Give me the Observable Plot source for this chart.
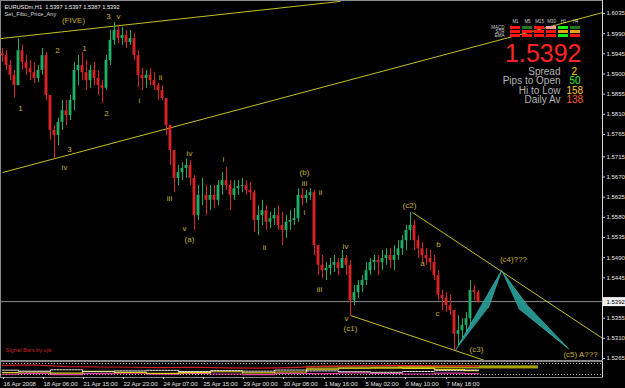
<!DOCTYPE html>
<html><head><meta charset="utf-8">
<script src="https://cdn.jsdelivr.net/npm/d3@7"></script>
<script src="https://cdn.jsdelivr.net/npm/@observablehq/plot@0.6"></script>
<style>
html,body{margin:0;padding:0;background:#000;}
#wrap{position:relative;width:625px;height:388px;background:#000;overflow:hidden;}
#wrap svg{position:absolute;left:0;top:0;}
</style></head><body><div id="wrap"></div>
<script>
// ---- H1 bars (EURUSD) ----
const firstOpen = 1.5945;
const highs = [1.5957,1.5952,1.5930,1.5908,1.5979,1.5964,1.5941,1.5930,1.5926,1.5919,
1.5957,1.5948,1.5852,1.5785,1.5801,1.5841,1.5841,1.5852,1.5926,1.5941,
1.5948,1.5930,1.5919,1.5926,1.5908,1.5885,1.5941,1.5997,1.6015,1.6008,
1.6004,1.5997,1.5997,1.5990,1.5952,1.5912,1.5908,1.5912,1.5903,1.5879,
1.5874,1.5845,1.5785,1.5729,1.5696,1.5702,1.5711,1.5707,1.5673,1.5651,
1.5667,1.5651,1.5651,1.5651,1.5662,1.5680,1.5691,1.5662,1.5662,1.5662,
1.5667,1.5662,1.5658,1.5640,1.5606,1.5618,1.5606,1.5591,1.5600,1.5606,
1.5591,1.5584,1.5595,1.5600,1.5644,1.5644,1.5640,1.5644,1.5640,1.5517,
1.5495,1.5479,1.5488,1.5495,1.5488,1.5506,1.5495,1.5484,1.5428,1.5439,
1.5450,1.5479,1.5488,1.5495,1.5495,1.5506,1.5510,1.5510,1.5517,1.5528,
1.5539,1.5562,1.5591,1.5573,1.5539,1.5524,1.5510,1.5506,1.5495,1.5461,
1.5417,1.5412,1.5406,1.5372,1.5361,1.5354,1.5368,1.5439,1.5428,1.5417];
const lows = [1.5926,1.5908,1.5885,1.5847,1.5874,1.5908,1.5897,1.5885,1.5879,1.5881,
1.5897,1.5841,1.5752,1.5711,1.5740,1.5774,1.5785,1.5796,1.5818,1.5874,
1.5885,1.5863,1.5868,1.5874,1.5852,1.5834,1.5863,1.5919,1.5964,1.5968,
1.5964,1.5957,1.5964,1.5930,1.5870,1.5863,1.5868,1.5874,1.5863,1.5841,
1.5841,1.5763,1.5696,1.5635,1.5651,1.5662,1.5667,1.5651,1.5551,1.5573,
1.5606,1.5584,1.5595,1.5600,1.5606,1.5629,1.5640,1.5595,1.5618,1.5629,
1.5635,1.5629,1.5618,1.5546,1.5539,1.5562,1.5551,1.5555,1.5562,1.5551,
1.5517,1.5533,1.5551,1.5562,1.5569,1.5606,1.5611,1.5618,1.5495,1.5450,
1.5444,1.5439,1.5450,1.5457,1.5450,1.5466,1.5450,1.5361,1.5383,1.5399,
1.5412,1.5428,1.5450,1.5461,1.5450,1.5461,1.5473,1.5466,1.5461,1.5484,
1.5495,1.5506,1.5528,1.5506,1.5488,1.5479,1.5473,1.5461,1.5439,1.5394,
1.5372,1.5368,1.5361,1.5283,1.5294,1.5310,1.5319,1.5339,1.5394,1.5388];
const closes = [1.5941,1.5919,1.5897,1.5874,1.5952,1.5926,1.5912,1.5903,1.5890,1.5908,
1.5941,1.5852,1.5774,1.5763,1.5792,1.5818,1.5807,1.5841,1.5908,1.5919,
1.5903,1.5885,1.5908,1.5890,1.5874,1.5868,1.5930,1.5975,1.5997,1.5979,
1.5986,1.5970,1.5979,1.5941,1.5897,1.5890,1.5897,1.5885,1.5874,1.5863,
1.5845,1.5785,1.5729,1.5667,1.5680,1.5689,1.5696,1.5667,1.5584,1.5629,
1.5629,1.5618,1.5629,1.5618,1.5651,1.5662,1.5651,1.5629,1.5644,1.5649,
1.5651,1.5640,1.5635,1.5573,1.5584,1.5595,1.5569,1.5577,1.5584,1.5562,
1.5551,1.5569,1.5573,1.5577,1.5629,1.5622,1.5629,1.5635,1.5517,1.5473,
1.5461,1.5466,1.5473,1.5479,1.5466,1.5488,1.5473,1.5394,1.5412,1.5428,
1.5439,1.5461,1.5479,1.5484,1.5479,1.5488,1.5495,1.5484,1.5495,1.5510,
1.5528,1.5551,1.5562,1.5528,1.5510,1.5495,1.5488,1.5479,1.5450,1.5406,
1.5399,1.5383,1.5372,1.5319,1.5327,1.5339,1.5354,1.5417,1.5412,1.5392];
const bid = 1.5392;

// ---- price axis ticks ----
const yTicks = [1.6035,1.5990,1.5945,1.5900,1.5855,1.5810,1.5765,1.5715,1.5670,1.5625,1.5580,1.5535,1.5490,1.5445,1.5355,1.5310,1.5265];

// ---- time axis (bar index -> label) ----
const dateIdx = [0.25,10.25,20.25,30.25,40.25,50.25,60.25,70.25,80.5,90.75,100.75,111];
const dateLabels = ["16 Apr 2008","18 Apr 06:00","21 Apr 15:00","22 Apr 23:00","24 Apr 07:00","25 Apr 15:00","29 Apr 00:00","30 Apr 08:00","1 May 16:00","5 May 02:00","6 May 10:00","7 May 18:00"];

// ---- trend lines (bar index, price) ----
const trendX1 = [-0.5, 0, 87, 102.5];
const trendY1 = [1.5979, 1.5680, 1.5361, 1.5591];
const trendX2 = [84.5, 150, 120.75, 150];
const trendY2 = [1.6062, 1.6037, 1.5260, 1.5310];

// ---- Elliott wave labels ----
const waveText = ["(FIVE)","3","v","2","1","1","2","i","ii","3","iv","iii","iv","v","(a)","i","ii","(b)","iii","ii","i","iv","iii","v","(c1)","(c2)","b","a","c","(c3)","(c4)???","(c5) A???"];
const waveIdx = [17.75,26.5,29,13.75,20.5,4.5,26,34.25,39.5,16.75,15.5,41.75,46.75,45.5,46.75,55.25,65.5,75.5,75.5,79.5,75.5,85.75,79.25,86,87,101.75,109,105,108.75,118.5,127.75,144.5];
const wavePrice = [1.6019,1.6028,1.6028,1.5952,1.5957,1.5823,1.5812,1.5841,1.5892,1.5731,1.5691,1.5622,1.5723,1.5555,1.5531,1.5709,1.5513,1.5680,1.5656,1.5635,1.5591,1.5515,1.5419,1.5354,1.5332,1.5606,1.5519,1.5477,1.5365,1.5285,1.5486,1.5274];

// ---- harmonic pattern triangles ----
const patternId = ["A","A","A","B","B","B","B"];
const patternIdx = [113.25,124.75,121.5, 124.75,131.25,141.5,129];
const patternPrice = [1.5283,1.5461,1.5379, 1.5461,1.5383,1.5287,1.5377];

// ---- info panel ----
const panelCols = ["M1","M5","M15","M30","H1","H4"];
const panelRows = ["MACD","STR","EMA"];
const macdSig = ["down","up","down","weak","strong","up"];
const strSig = ["down","down","down","down","mixed","mixed"];
const emaSig = ["down","down","down","down","strong","down"];
const statLabels = ["Spread","Pips to Open","Hi to Low","Daily Av"];
const statValues = ["2","50","158","138"];
const headerLine = "EURUSDm,H1  1.5397 1.5397 1.5387 1.5392";
const indicatorName = "Set_Fibo_Price_Any";
const signalName = "Signal Bars by oja";

// ---- lower indicator window ----
const subIdx = [0,8,16,24,32,40,48,56,64,72,80,88,96,104,112,119];
const subRed = [80,82,70,68,66,64,66,62,60,64,72,76,80,78,74,72];
const subWhite = [45,38,48,34,40,44,36,42,38,46,40,34,30,36,42,46];
const subYellow = [28,32,24,36,30,22,28,34,26,32,52,60,62,58,50,42];
const subPink = [16,22,14,20,24,16,22,18,14,22,20,26,22,18,24,20];
const bandFrom = [76, 99];
const bandTo = [99, 134];
const bandLo = [50, 54];
const bandHi = [74, 76];
const bandKind = ["olive","yellow"];

// ================= build =================
const BULL = "#1fae66", BEAR = "#d82424", WAVE = "#c8b032", TREND = "#c4c020", TEAL = "#2aa09c";
const FONT = "'Liberation Sans', Arial, sans-serif";

const candles = closes.map((c, i) => {
  const open = i ? closes[i - 1] : firstOpen;
  return {i, open, close: c, high: Math.max(highs[i], open, c), low: Math.min(lows[i], open, c)};
});
const trends = trendX1.map((x, k) => ({x1: x, y1: trendY1[k], x2: trendX2[k], y2: trendY2[k]}));
const waves = waveText.map((t, k) => ({t, i: waveIdx[k], p: wavePrice[k]}));
const pattern = patternId.map((id, k) => ({id, i: patternIdx[k], p: patternPrice[k]}));
const colorOf = d => d.close >= d.open ? BULL : BEAR;

const txt = (s, dx, dy, o) => Plot.text([s], {frameAnchor: "top-left", lineAnchor: "middle", dx, dy, text: d => d, ...o});
const statColors = ["#ffd21a", "#2cf02c", "#ffcc22", "#ff5a20"];
const statX = [571, 569, 566, 566];

const main = Plot.plot({
  width: 625, height: 388,
  marginLeft: 0, marginTop: 0, marginRight: 23, marginBottom: 28,
  style: {background: "#000", color: "#e6e6e6", fontFamily: FONT, overflow: "visible"},
  x: {domain: [0, 150], range: [2, 602], axis: null},
  y: {domain: [1.5265, 1.6035], range: [358, 13]},
  color: {type: "identity"},
  marks: [
    Plot.frame({stroke: "#8a8a8a"}),
    Plot.ruleY([bid], {stroke: "#8c8c8c"}),
    Plot.link(trends, {x1: "x1", y1: "y1", x2: "x2", y2: "y2", stroke: TREND, strokeWidth: 1, clip: true}),
    Plot.ruleX(candles, {x: "i", y1: "low", y2: "high", stroke: colorOf, strokeWidth: 1}),
    Plot.rect(candles, {x1: d => d.i - 0.36, x2: d => d.i + 0.36, y1: "open", y2: "close", fill: colorOf}),
    Plot.line(pattern, {x: "i", y: "p", z: "id", fill: TEAL, stroke: "#37b8b2", strokeWidth: 0.8, fillOpacity: 0.9}),
    Plot.text(waves, {x: "i", y: "p", text: "t", fill: WAVE, fontSize: 8}),
    Plot.ruleX([150], {stroke: "#d8d8d8"}),
    Plot.axisY(yTicks, {anchor: "right", tickSize: 2, tickPadding: 2, tickFormat: d3.format(".4f"), fontSize: 6, stroke: "#cfcfcf"}),
    Plot.ruleY([bid], {x1: 150.25, x2: 156, stroke: "#f0f0f0", strokeWidth: 9}),
    Plot.text([bid], {x: 150, y: d => d, dx: 4, text: d3.format(".4f"), textAnchor: "start", fill: "#000", fontSize: 6}),
    txt(headerLine, 4, 7, {textAnchor: "start", fontSize: 5.7, fill: "#f2f2f2"}),
    txt(indicatorName, 4, 13.5, {textAnchor: "start", fontSize: 5.7, fill: "#d8d8d8"}),
    txt(bid.toFixed(4), 581, 53, {textAnchor: "end", fontSize: 25, fill: "#ff2424"}),
    ...statLabels.map((s, k) => txt(s, 560, 71 + 9.5 * k, {textAnchor: "end", fontSize: 10, fill: "#b4b4b4"})),
    ...statValues.map((s, k) => txt(s, statX[k], 71 + 9.5 * k, {textAnchor: "start", fontSize: 10, fill: statColors[k]})),
    txt(signalName, 5, 350, {textAnchor: "start", fontSize: 5.7, fill: "#c82222"})
  ]
});

const subPts = (vals) => subIdx.map((x, k) => ({x, v: vals[k]}));
const bands = bandFrom.map((f, k) => ({f, t: bandTo[k], lo: bandLo[k], hi: bandHi[k], kind: bandKind[k]}));
const dateMap = new Map(dateIdx.map((d, k) => [d, dateLabels[k]]));

const sub = Plot.plot({
  width: 625, height: 388,
  marginLeft: 0, marginRight: 23, marginTop: 361, marginBottom: 11,
  style: {background: "transparent", color: "#e2e2e2", fontFamily: FONT, overflow: "visible"},
  x: {domain: [0, 150], range: [2, 602]},
  y: {domain: [0, 100], range: [376, 362], axis: null},
  color: {type: "identity"},
  marks: [
    Plot.frame({stroke: "#8a8a8a"}),
    Plot.rect(bands, {x1: "f", x2: "t", y1: "lo", y2: "hi", fill: d => d.kind === "olive" ? "#5e5a10" : "#a8a200"}),
    Plot.ruleY([93, 14], {stroke: "#bdbdbd", strokeDasharray: "1,2"}),
    Plot.line(subPts(subPink), {x: "x", y: "v", stroke: "#e040a0", strokeWidth: 1.2, curve: "step"}),
    Plot.line(subPts(subYellow), {x: "x", y: "v", stroke: "#e0d020", strokeWidth: 1.2, curve: "step"}),
    Plot.line(subPts(subWhite), {x: "x", y: "v", stroke: "#e8e8e8", strokeWidth: 1, strokeDasharray: "2,1", curve: "step"}),
    Plot.line(subPts(subRed), {x: "x", y: "v", stroke: "#d02020", strokeWidth: 1.2}),
    Plot.ruleX([150], {stroke: "#d8d8d8"}),
    Plot.axisX(dateIdx, {anchor: "bottom", tickSize: 2, tickPadding: 2, textAnchor: "start", fontSize: 6, tickFormat: d => dateMap.get(d), stroke: "#cfcfcf"})
  ]
});

const cellFill = {down: "#ff1414", up: "#1f7a1f", weak: "#ff9a9a", strong: "#14f014", mixed: "#e8a418"};
const sigs = [macdSig, strSig, emaSig];
const cells = panelRows.flatMap((r, ri) => panelCols.map((c, ci) => ({row: r, col: c, fill: cellFill[sigs[ri][ci]]})));

const panel = Plot.plot({
  width: 120, height: 30, margin: 0,
  style: {background: "transparent", color: "#d0d0d0", fontFamily: FONT, overflow: "visible"},
  x: {type: "band", domain: panelCols, range: [35.5, 114.5], padding: 0.16, axis: null},
  y: {type: "band", domain: panelRows, range: [9.8, 23.3], padding: 0.18, axis: null},
  color: {type: "identity"},
  marks: [
    Plot.cell(cells, {x: "col", y: "row", fill: "fill", inset: 0}),
    Plot.text(panelCols, {x: d => d, frameAnchor: "top", lineAnchor: "middle", dy: 6, fill: "#d0d0d0", fontSize: 4.5}),
    Plot.text(panelRows, {y: d => d, frameAnchor: "left", dx: 34, textAnchor: "end", fontSize: 4.5, fill: "#d0d0d0"})
  ]
});

const wrap = document.getElementById("wrap");
wrap.appendChild(main);
wrap.appendChild(sub);
panel.style.left = "470px";
panel.style.top = "15px";
wrap.appendChild(panel);
</script>
</body></html>
